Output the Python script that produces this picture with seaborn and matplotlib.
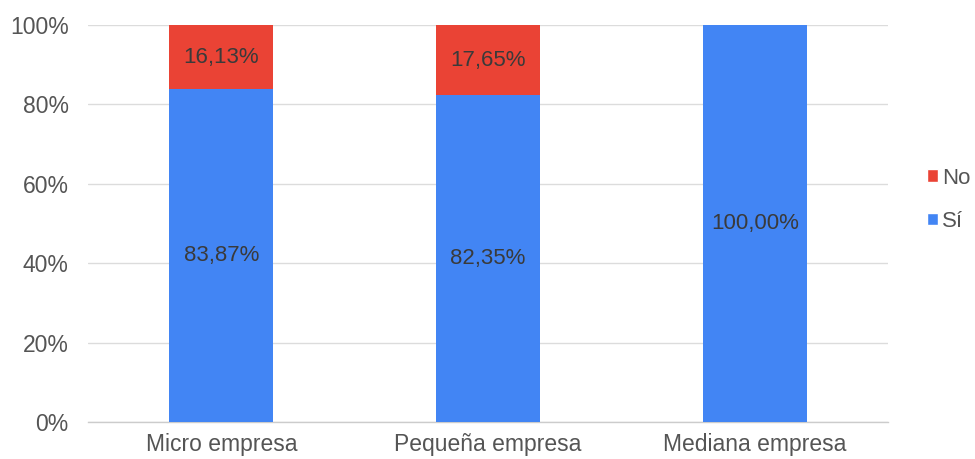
import matplotlib
matplotlib.use("Agg")
import matplotlib.pyplot as plt
from matplotlib.patches import Patch
from matplotlib.ticker import FixedLocator, FuncFormatter
import seaborn as sns
import pandas as pd

categories = ["Micro empresa", "Pequeña empresa", "Mediana empresa"]
si_values = [83.87, 82.35, 100.00]
no_values = [16.13, 17.65, 0.00]
series_names = ["No", "Sí"]

BLUE = "#4285F4"
RED = "#EA4335"
TEXT = "#555555"

sns.set_theme(style="white")
plt.rcParams["font.family"] = ["Liberation Sans", "DejaVu Sans"]

df = pd.DataFrame({"categoria": categories, "si": si_values, "no": no_values})
df["total"] = df["si"] + df["no"]

fig = plt.figure(figsize=(9.75, 4.59), dpi=100)
ax = fig.add_axes([0.0903, 0.0806, 0.8207, 0.8649])

sns.barplot(data=df, x="categoria", y="total", color=RED, width=0.39,
            saturation=1, linewidth=0, ax=ax, zorder=3)
sns.barplot(data=df, x="categoria", y="si", color=BLUE, width=0.39,
            saturation=1, linewidth=0, ax=ax, zorder=3)

fmt = lambda v: f"{v:.2f}".replace(".", ",") + "%"
for i, (s, n) in enumerate(zip(si_values, no_values)):
    ax.text(i, s / 2, fmt(s), ha="center", va="center", fontsize=16,
            color="#3a3a3a", zorder=4)
    if n > 0:
        ax.text(i, s + n / 2, fmt(n), ha="center", va="center", fontsize=16,
                color="#3a3a3a", zorder=4)

ax.set_xlim(-0.5, len(categories) - 0.5)
ax.set_ylim(0, 100)
ax.set_yticks(range(0, 101, 20))
ax.yaxis.set_major_formatter(FuncFormatter(lambda v, p: f"{int(v)}%"))
ax.grid(axis="y", color="#dcdcdc", linewidth=1, zorder=0)
ax.set_xlabel("")
ax.set_ylabel("")

for side in ["top", "right", "left"]:
    ax.spines[side].set_visible(False)
ax.spines["bottom"].set_color("#cccccc")
ax.spines["bottom"].set_linewidth(1)

ax.tick_params(axis="y", length=0, labelsize=16.5, labelcolor=TEXT, pad=14)
ax.tick_params(axis="x", which="major", length=0, labelsize=16.5,
               labelcolor=TEXT, pad=8)
ax.xaxis.set_minor_locator(FixedLocator([-0.5, 0.5, 1.5, 2.5]))
ax.tick_params(axis="x", which="minor", length=5, color="#cccccc", width=1)

handles = [Patch(facecolor=RED, label=series_names[0]),
           Patch(facecolor=BLUE, label=series_names[1])]
leg = fig.legend(handles=handles, loc="center left",
                 bbox_to_anchor=(0.951, 0.565), frameon=False,
                 fontsize=16, handlelength=0.5, handleheight=0.5,
                 handletextpad=0.15, labelspacing=1.0, borderpad=0,
                 borderaxespad=0)
for t in leg.get_texts():
    t.set_color(TEXT)

fig.savefig("out.png", dpi=100)
